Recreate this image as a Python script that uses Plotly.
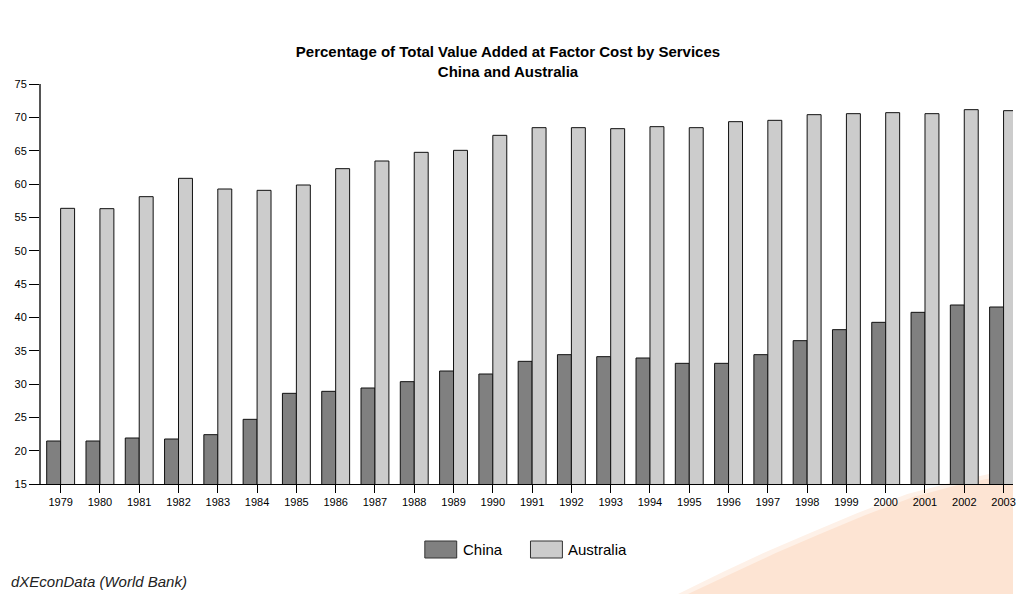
import plotly.graph_objects as go

# Services share of total value added at factor cost (%)
years = [str(y) for y in range(1979, 2004)]
china = [21.45, 21.45, 21.9, 21.75, 22.4, 24.7, 28.6, 28.9, 29.4, 30.35,
         31.95, 31.5, 33.4, 34.4, 34.1, 33.9, 33.1, 33.1, 34.4, 36.5,
         38.15, 39.25, 40.75, 41.85, 41.55]
australia = [56.35, 56.3, 58.1, 60.85, 59.25, 59.05, 59.85, 62.3, 63.45, 64.75,
             65.05, 67.3, 68.45, 68.45, 68.3, 68.6, 68.45, 69.35, 69.55, 70.4,
             70.55, 70.7, 70.55, 71.15, 71.0]
y_ticks = list(range(15, 80, 5))

W, H = 1016, 594
L, R, T, B = 41, 0, 84, 110
FONT = "Liberation Sans, Arial, sans-serif"

CHINA_FILL = "#808080"
AUS_FILL = "#cccccc"


def px(x):
    return (x - L) / (W - L - R)


def py(y):
    return (H - B - y) / (H - T - B)


fig = go.Figure()
fig.add_trace(go.Bar(x=years, y=china, name="China",
                     marker=dict(color=CHINA_FILL, line=dict(color="#111", width=1))))
fig.add_trace(go.Bar(x=years, y=australia, name="Australia",
                     marker=dict(color=AUS_FILL, line=dict(color="#111", width=1))))

# soft peach swoosh in the lower right corner
curve_outer = [(680, 594), (725, 572), (768, 552), (810, 534), (860, 513),
               (910, 494), (960, 481), (992, 474), (1016, 471)]
curve_inner = [(690, 594), (735, 573), (778, 553), (820, 535), (868, 515),
               (916, 497), (964, 484), (995, 478), (1016, 475)]


def swoosh_path(pts):
    d = "M {:.4f},{:.4f}".format(px(pts[0][0]), py(pts[0][1]))
    for x, y in pts[1:]:
        d += " L {:.4f},{:.4f}".format(px(x), py(y))
    d += " L {:.4f},{:.4f} Z".format(px(1016), py(594))
    return d


shapes = [
    dict(type="path", xref="paper", yref="paper", path=swoosh_path(curve_outer),
         fillcolor="#fef1e8", line=dict(width=0), layer="below"),
    dict(type="path", xref="paper", yref="paper", path=swoosh_path(curve_inner),
         fillcolor="#fde4d3", line=dict(width=0), layer="below"),
]

# legend swatches
for x0, fill in [(426, CHINA_FILL), (532, AUS_FILL)]:
    shapes.append(dict(type="rect", xref="paper", yref="paper",
                       x0=px(x0), x1=px(x0 + 32), y0=py(558), y1=py(541),
                       fillcolor=fill, line=dict(color="#333", width=1)))

annotations = [
    dict(text="China", x=px(462), y=py(549), xref="paper", yref="paper",
         xanchor="left", yanchor="middle", showarrow=False,
         font=dict(family=FONT, size=15, color="black")),
    dict(text="Australia", x=px(568), y=py(549), xref="paper", yref="paper",
         xanchor="left", yanchor="middle", showarrow=False,
         font=dict(family=FONT, size=15, color="black")),
    dict(text="<i>dXEconData (World Bank)</i>", x=px(9), y=py(581),
         xref="paper", yref="paper", xanchor="left", yanchor="middle",
         showarrow=False, font=dict(family=FONT, size=15, color="#222")),
]

fig.update_layout(
    width=W, height=H,
    margin=dict(l=L, r=R, t=T, b=B),
    paper_bgcolor="white", plot_bgcolor="rgba(0,0,0,0)",
    title=dict(text="<b>Percentage of Total Value Added at Factor Cost by Services<br>China and Australia</b>",
               x=0.5, xref="container", xanchor="center",
               y=1 - 57 / H, yref="container", yanchor="middle",
               font=dict(family=FONT, size=15, color="black")),
    barmode="group", bargap=0.29, bargroupgap=0,
    showlegend=False,
    shapes=shapes, annotations=annotations,
    font=dict(family=FONT, size=11, color="black"),
)

fig.update_xaxes(type="category", range=[-0.5, 24.24],
                 showline=True, linecolor="black", linewidth=1,
                 ticks="outside", ticklen=8, tickcolor="black",
                 showgrid=False, tickfont=dict(family=FONT, size=11, color="black"))
fig.update_yaxes(range=[15, 75], tickvals=y_ticks,
                 showline=True, linecolor="#555", linewidth=2,
                 ticks="outside", ticklen=10, tickcolor="black",
                 showgrid=False, zeroline=False,
                 tickfont=dict(family=FONT, size=11, color="black"))

fig.write_html("out.html")
